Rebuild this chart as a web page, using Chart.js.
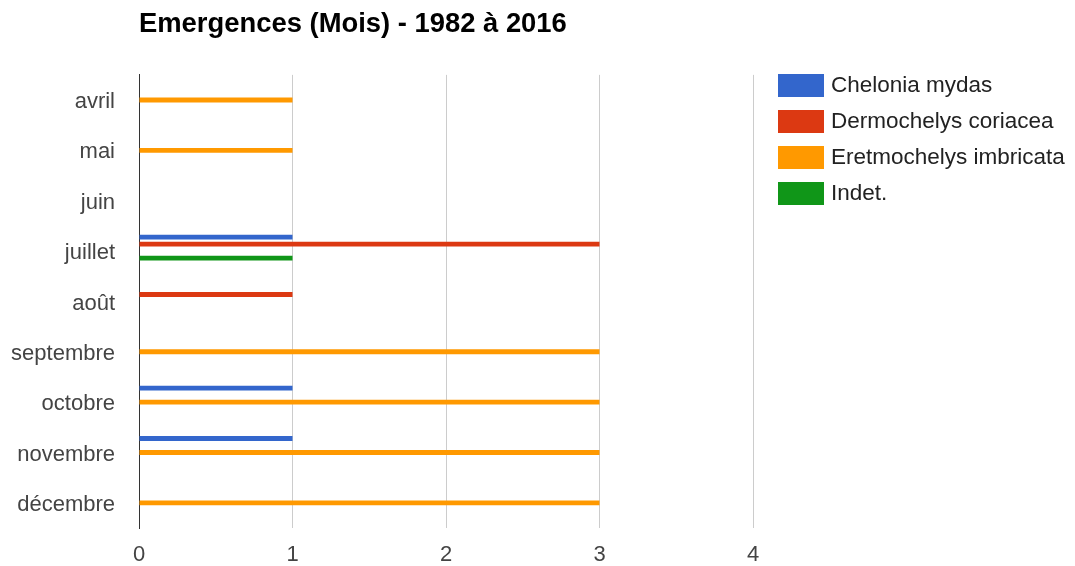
<!DOCTYPE html>
<html lang="fr">
<head>
<meta charset="utf-8">
<title>Emergences (Mois) - 1982 à 2016</title>
<script src="https://cdn.jsdelivr.net/npm/chart.js@4"></script>
<style>
  html, body { margin: 0; padding: 0; background: #fff; }
  .chart-wrap { width: 1075px; height: 566px; position: relative; }
</style>
</head>
<body>
<div class="chart-wrap"><canvas id="emergencesChart"></canvas></div>
<script>
const months = ['avril', 'mai', 'juin', 'juillet', 'août', 'septembre', 'octobre', 'novembre', 'décembre'];
const cheloniaMydas = [null, null, null, 1, null, null, 1, 1, null];
const dermochelysCoriacea = [null, null, null, 3, 1, null, null, null, null];
const eretmochelysImbricata = [1, 1, null, null, null, 3, 3, 3, 3];
const indet = [null, null, null, 1, null, null, null, null, null];
// empty slot so the group sits like the original (orange bar on the label line)
const spacer = [null, null, null, null, null, null, null, null, null];
const xTicks = [0, 1, 2, 3, 4];

const FONT = 'Arial, "Liberation Sans", sans-serif';

/**
 * Legend drawn to the right of the plot, Google-chart style
 */
const sideLegend = {
  id: 'sideLegend',
  afterDraw(chart) {
    const ctx = chart.ctx;
    const x = chart.chartArea.right + 25;
    let y = 74;
    ctx.save();
    ctx.font = '22.5px ' + FONT;
    ctx.textBaseline = 'middle';
    ctx.textAlign = 'left';
    chart.data.datasets.forEach(function(ds) {
      if (!ds.label) return;
      ctx.fillStyle = ds.backgroundColor;
      ctx.fillRect(x, y, 46, 23);
      ctx.fillStyle = '#222';
      ctx.fillText(ds.label, x + 53, y + 12);
      y += 36;
    });
    ctx.restore();
  }
};

function initEmergencesChart() {
  const ctx = document.getElementById('emergencesChart');
  if (!ctx) return;

  const chart = new Chart(ctx, {
    type: 'bar',
    data: {
      labels: months,
      datasets: [
        { label: 'Chelonia mydas', data: cheloniaMydas, backgroundColor: '#3366cc' },
        { label: 'Dermochelys coriacea', data: dermochelysCoriacea, backgroundColor: '#dc3912' },
        { label: 'Eretmochelys imbricata', data: eretmochelysImbricata, backgroundColor: '#ff9900' },
        { label: 'Indet.', data: indet, backgroundColor: '#109618' },
        { label: '', data: spacer, backgroundColor: 'rgba(0,0,0,0)' }
      ]
    },
    options: {
      indexAxis: 'y',
      responsive: true,
      maintainAspectRatio: false,
      animation: false,
      categoryPercentage: 0.694,
      barPercentage: 0.7,
      borderWidth: 0,
      layout: {
        padding: { top: 0, right: 322, bottom: 0, left: 0 }
      },
      plugins: {
        legend: { display: false },
        tooltip: { enabled: false },
        title: {
          display: true,
          text: 'Emergences (Mois) - 1982 à 2016',
          align: 'start',
          fullSize: false,
          color: '#000',
          font: { family: FONT, size: 27.4, weight: 'bold' },
          padding: { top: 8, bottom: 34 }
        }
      },
      scales: {
        x: {
          min: 0,
          max: 4,
          afterBuildTicks: function(scale) {
            scale.ticks = xTicks.map(function(v) { return { value: v }; });
          },
          afterFit: function(scale) { scale.height = 38; },
          grid: {
            drawTicks: false,
            color: function(c) { return c.tick && c.tick.value === 0 ? 'rgba(0,0,0,0)' : '#cccccc'; }
          },
          border: { display: false },
          ticks: {
            padding: 14,
            color: '#444',
            font: { family: FONT, size: 22 }
          }
        },
        y: {
          afterFit: function(scale) { scale.width = 139; },
          grid: { display: false, drawTicks: false },
          border: { display: true, color: '#333333', width: 1 },
          ticks: {
            padding: 24,
            labelOffset: 2,
            color: '#444',
            font: { family: FONT, size: 22 }
          }
        }
      }
    },
    plugins: [sideLegend]
  });
}

document.addEventListener('DOMContentLoaded', function() {
  initEmergencesChart();
});
</script>
</body>
</html>
